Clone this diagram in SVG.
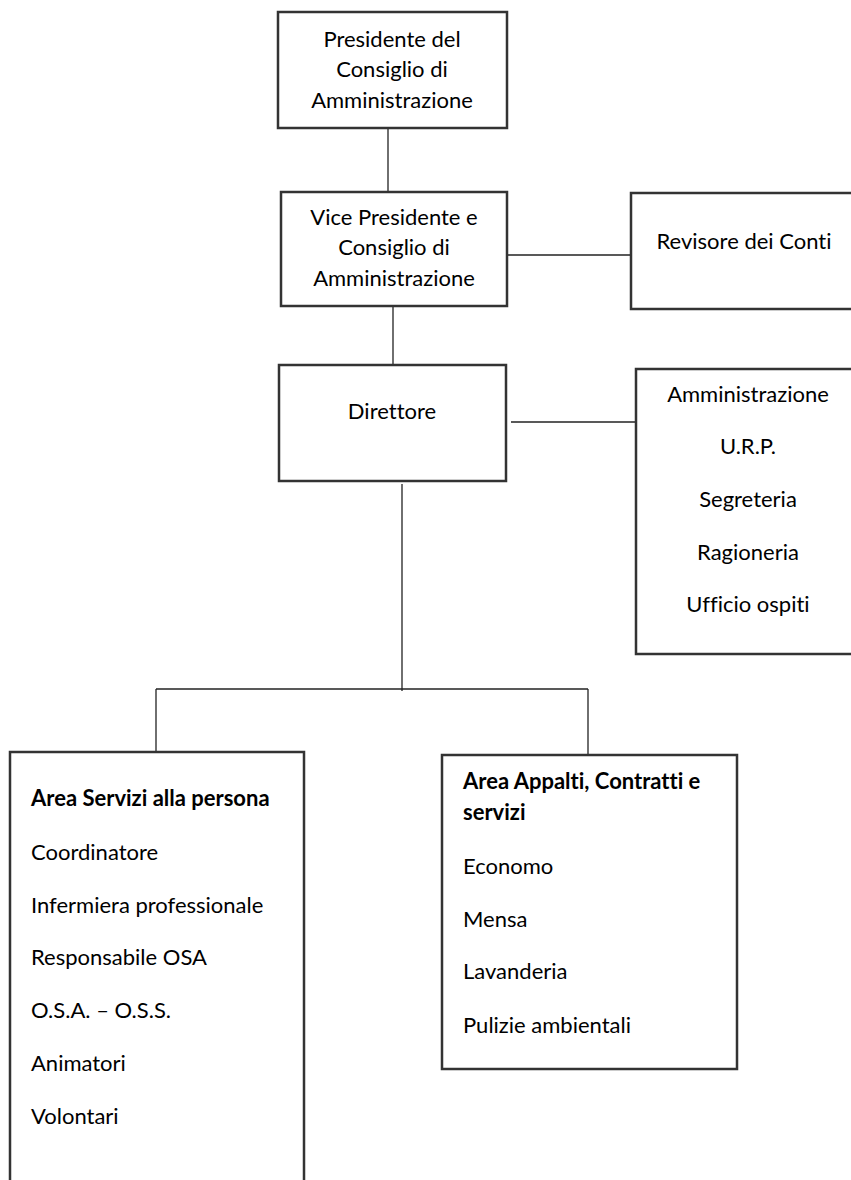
<svg xmlns="http://www.w3.org/2000/svg" width="851" height="1180" viewBox="0 0 851 1180">
<style>
.box{fill:#fff;stroke:#333;stroke-width:2.5}
.conn line{stroke:#222;stroke-width:1.3}
text{font-family:Lato,"Open Sans","Liberation Sans",sans-serif;font-size:22px;fill:#000;font-variant-ligatures:none}
.c{text-anchor:middle}
.b{font-weight:bold}
</style>
<rect width="851" height="1180" fill="#fff"/>
<g id="connectors" class="conn">
<line x1="388" y1="128" x2="388" y2="192"/>
<line x1="393" y1="306" x2="393" y2="365"/>
<line x1="507" y1="255" x2="631" y2="255"/>
<line x1="511" y1="422" x2="636" y2="422"/>
<line x1="402" y1="484" x2="402" y2="691"/>
<line x1="156" y1="689" x2="588" y2="689"/>
<line x1="156" y1="689" x2="156" y2="752"/>
<line x1="588" y1="689" x2="588" y2="755"/>
</g>
<g id="presidente">
<rect class="box" x="278" y="12" width="229" height="116"/>
<text class="c" x="392" y="47">Presidente del</text>
<text class="c" x="392" y="77">Consiglio di</text>
<text class="c" x="392" y="108">Amministrazione</text>
</g>
<g id="vicepresidente">
<rect class="box" x="281" y="192" width="226" height="114"/>
<text class="c" x="394" y="225">Vice Presidente e</text>
<text class="c" x="394" y="255">Consiglio di</text>
<text class="c" x="394" y="286">Amministrazione</text>
</g>
<g id="revisore">
<rect class="box" x="631" y="193" width="240" height="116"/>
<text class="c" x="744" y="249">Revisore dei Conti</text>
</g>
<g id="direttore">
<rect class="box" x="279" y="365" width="227" height="116"/>
<text class="c" x="392" y="419">Direttore</text>
</g>
<g id="uffici">
<rect class="box" x="636" y="369" width="240" height="285"/>
<text class="c" x="748" y="402">Amministrazione</text>
<text class="c" x="748" y="454">U.R.P.</text>
<text class="c" x="748" y="507">Segreteria</text>
<text class="c" x="748" y="560">Ragioneria</text>
<text class="c" x="748" y="612">Ufficio ospiti</text>
</g>
<g id="area-servizi">
<rect class="box" x="10" y="752" width="294" height="460"/>
<text class="b" x="31" y="806">Area Servizi alla persona</text>
<text x="31" y="860">Coordinatore</text>
<text x="31" y="913">Infermiera professionale</text>
<text x="31" y="965">Responsabile OSA</text>
<text x="31" y="1018">O.S.A. – O.S.S.</text>
<text x="31" y="1071">Animatori</text>
<text x="31" y="1124">Volontari</text>
</g>
<g id="area-appalti">
<rect class="box" x="442" y="755" width="295" height="314"/>
<text class="b" x="463" y="789">Area Appalti, Contratti e</text>
<text class="b" x="463" y="820">servizi</text>
<text x="463" y="874">Economo</text>
<text x="463" y="927">Mensa</text>
<text x="463" y="979">Lavanderia</text>
<text x="463" y="1033">Pulizie ambientali</text>
</g>
</svg>
